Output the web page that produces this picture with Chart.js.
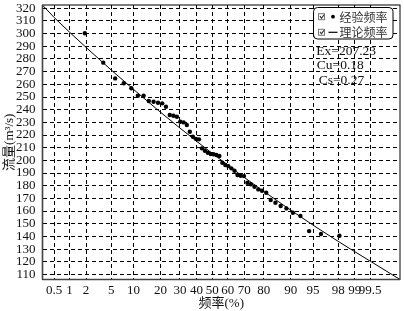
<!DOCTYPE html>
<html>
<head>
<meta charset="utf-8">
<script src="https://cdn.jsdelivr.net/npm/chart.js@4/dist/chart.umd.min.js"></script>
<style>
html,body{margin:0;padding:0;background:#fff;}
#wrap{width:404px;height:311px;position:relative;}
</style>
</head>
<body>
<div id="wrap"><canvas id="c" width="404" height="311"></canvas></div>
<script>
// ---------- data ----------
const probTicks = [0.5, 1, 2, 5, 10, 20, 30, 40, 50, 60, 70, 80, 90, 95, 98, 99, 99.5];
const flowTicks = [110, 120, 130, 140, 150, 160, 170, 180, 190, 200, 210, 220, 230, 240, 250, 260, 270, 280, 290, 300, 310, 320];

const empiricalFreq = [1.9, 3.8, 5.7, 7.5, 9.4, 11.3, 13.2, 15.1, 17.0, 18.9, 20.8, 22.6, 24.5, 26.4, 28.3, 30.2, 32.1, 34.0, 35.8, 37.7,
  39.6, 41.5, 43.4, 45.3, 47.2, 49.1, 50.9, 52.8, 54.7, 56.6, 58.5, 60.4, 62.3, 64.2, 66.0, 67.9, 69.8, 71.7, 73.6, 75.5,
  77.4, 79.2, 81.1, 83.0, 84.9, 86.8, 88.7, 90.6, 92.5, 94.3, 96.2, 98.1];
const empiricalFlow = [300.3, 277.1, 264.7, 260.8, 256.9, 251.0, 251.0, 246.8, 246.3, 245.5, 245.0, 242.3, 235.8, 235.2, 234.4, 230.5, 230.0, 227.9, 222.6, 218.6,
  217.0, 216.6, 209.5, 207.6, 206.0, 205.0, 204.8, 204.2, 203.4, 198.1, 196.3, 195.5, 193.7, 191.8, 188.4, 187.9, 187.6, 182.3, 181.1, 179.2,
  177.1, 176.0, 174.5, 168.7, 166.6, 164.0, 162.1, 158.7, 156.1, 144.2, 141.9, 140.5];

const theoryFreq = [0.285, 0.5, 1, 2, 5, 10, 20, 30, 40, 50, 60, 70, 80, 90, 95, 98, 99, 99.5, 99.89];
const theoryFlow = [322.5, 312.8, 301.3, 289.1, 271.3, 256.0, 238.0, 225.5, 215.1, 205.6, 196.3, 186.5, 175.5, 160.7, 148.9, 136.1, 127.9, 120.5, 106.0];

const legendLabels = ['经验频率', '理论频率'];
const statLines = ['Ex=207.23', 'Cu=0.18', 'Cs=0.27'];
const xTitle = '频率(%)';
const yTitle = '流量(m³/s)';

// ---------- probability (normal) scale ----------
function probit(p) {
  const a = [-3.969683028665376e+01, 2.209460984245205e+02, -2.759285104469687e+02, 1.383577518672690e+02, -3.066479806614716e+01, 2.506628277459239e+00];
  const b = [-5.447609879822406e+01, 1.615858368580409e+02, -1.556989798598866e+02, 6.680131188771972e+01, -1.328068155288572e+01];
  const c = [-7.784894002430293e-03, -3.223964580411365e-01, -2.400758277161838e+00, -2.549732539343734e+00, 4.374664141464968e+00, 2.938163982698783e+00];
  const d = [7.784695709041462e-03, 3.224671290700398e-01, 2.445134137142996e+00, 3.754408661907416e+00];
  const pl = 0.02425, ph = 1 - pl;
  let q, r;
  if (p < pl) {
    q = Math.sqrt(-2 * Math.log(p));
    return (((((c[0]*q+c[1])*q+c[2])*q+c[3])*q+c[4])*q+c[5]) / ((((d[0]*q+d[1])*q+d[2])*q+d[3])*q+1);
  }
  if (p <= ph) {
    q = p - 0.5; r = q * q;
    return (((((a[0]*r+a[1])*r+a[2])*r+a[3])*r+a[4])*r+a[5])*q / (((((b[0]*r+b[1])*r+b[2])*r+b[3])*r+b[4])*r+1);
  }
  q = Math.sqrt(-2 * Math.log(1 - p));
  return -(((((c[0]*q+c[1])*q+c[2])*q+c[3])*q+c[4])*q+c[5]) / ((((d[0]*q+d[1])*q+d[2])*q+d[3])*q+1);
}
function normCdf(z) {
  const t = 1 / (1 + 0.3275911 * Math.abs(z) / Math.SQRT2);
  const y = 1 - (((((1.061405429*t - 1.453152027)*t) + 1.421413741)*t - 0.284496736)*t + 0.254829592)*t*Math.exp(-z*z/2);
  return z >= 0 ? 0.5 * (1 + y) : 0.5 * (1 - y);
}

const LinearScale = Chart.registry.getScale('linear');
class ProbabilityScale extends LinearScale {
  determineDataLimits() { this.min = this.options.min; this.max = this.options.max; }
  buildTicks() { return probTicks.map(v => ({ value: v })); }
  configure() {
    super.configure();
    this._zMin = probit(this.min / 100);
    this._zMax = probit(this.max / 100);
  }
  getPixelForValue(v) {
    if (v === null || v === undefined) return NaN;
    return this.getPixelForDecimal((probit(v / 100) - this._zMin) / (this._zMax - this._zMin));
  }
  getValueForPixel(px) {
    return 100 * normCdf(this._zMin + this.getDecimalForPixel(px) * (this._zMax - this._zMin));
  }
}
ProbabilityScale.id = 'probability';
ProbabilityScale.defaults = {};
Chart.register(ProbabilityScale);

// ---------- overlay: frame, legend, stats ----------
const overlay = {
  id: 'overlay',
  afterDraw(chart) {
    const { ctx, chartArea: a } = chart;
    ctx.save();
    ctx.setLineDash([]);
    // frame
    ctx.strokeStyle = '#000';
    ctx.lineWidth = 1;
    ctx.strokeRect(a.left, a.top, a.right - a.left, a.bottom - a.top);
    ctx.strokeStyle = '#444';
    ctx.lineWidth = 1.6;
    ctx.beginPath();
    ctx.moveTo(a.left, a.bottom); ctx.lineTo(a.right, a.bottom);
    ctx.moveTo(a.left, a.top); ctx.lineTo(a.left, a.bottom);
    ctx.stroke();

    // legend box
    const bx = a.right - 86.5, by = a.top + 2.5, bw = 79.5, bh = 31.5, r = 4;
    ctx.beginPath();
    ctx.moveTo(bx + r, by);
    ctx.arcTo(bx + bw, by, bx + bw, by + bh, r);
    ctx.arcTo(bx + bw, by + bh, bx, by + bh, r);
    ctx.arcTo(bx, by + bh, bx, by, r);
    ctx.arcTo(bx, by, bx + bw, by, r);
    ctx.closePath();
    ctx.fillStyle = '#fff';
    ctx.fill();
    ctx.strokeStyle = '#000';
    ctx.lineWidth = 1;
    ctx.stroke();

    const rows = [by + 9.2, by + 24.8];
    ctx.font = '12px "Noto Sans CJK SC", sans-serif';
    ctx.textBaseline = 'middle';
    ctx.textAlign = 'left';
    rows.forEach((ry, i) => {
      // checkbox
      const cx = bx + 4.5, cy = ry - 3.5;
      ctx.strokeStyle = '#777';
      ctx.lineWidth = 1;
      ctx.strokeRect(cx + 0.5, cy + 0.5, 6, 6);
      ctx.strokeStyle = '#333';
      ctx.lineWidth = 1.1;
      ctx.beginPath();
      ctx.moveTo(cx + 2, cy + 3);
      ctx.lineTo(cx + 3.5, cy + 5);
      ctx.lineTo(cx + 6, cy + 1.5);
      ctx.stroke();
      // symbol
      ctx.fillStyle = '#000';
      ctx.strokeStyle = '#000';
      if (i === 0) {
        ctx.beginPath();
        ctx.arc(bx + 19.5, ry, 1.9, 0, Math.PI * 2);
        ctx.fill();
      } else {
        ctx.lineWidth = 1.2;
        ctx.beginPath();
        ctx.moveTo(bx + 15, ry); ctx.lineTo(bx + 24, ry);
        ctx.stroke();
      }
      ctx.fillStyle = '#333';
      ctx.fillText(legendLabels[i], bx + 26, ry + 0.5);
    });

    // statistics
    ctx.font = '13.5px "Liberation Serif", serif';
    ctx.fillStyle = '#111';
    const sx = [bx + 2.8, bx + 3.3, bx + 5.2];
    statLines.forEach((t, i) => {
      ctx.fillText(t, sx[i], a.top + 46.7 + i * 14.2);
    });
    ctx.restore();
  }
};

// ---------- chart ----------
Chart.defaults.font.family = '"Liberation Serif", "Noto Sans CJK SC", serif';
Chart.defaults.font.size = 13;
Chart.defaults.color = '#111';

new Chart(document.getElementById('c'), {
  type: 'scatter',
  data: {
    datasets: [
      {
        label: legendLabels[0],
        data: empiricalFreq.map((p, i) => ({ x: p, y: empiricalFlow[i] })),
        backgroundColor: '#000',
        borderWidth: 0,
        pointRadius: 2.2,
        order: 1
      },
      {
        label: legendLabels[1],
        type: 'line',
        data: theoryFreq.map((p, i) => ({ x: p, y: theoryFlow[i] })),
        borderColor: '#000',
        borderWidth: 1,
        pointRadius: 0,
        fill: false,
        tension: 0,
        order: 2
      }
    ]
  },
  options: {
    responsive: false,
    animation: false,
    events: [],
    layout: { padding: { left: 0, top: 5, right: 1, bottom: 0 } },
    plugins: { legend: { display: false }, tooltip: { enabled: false } },
    scales: {
      x: {
        type: 'probability',
        min: 0.285,
        max: 99.89,
        grid: { color: '#000', lineWidth: 1, drawTicks: false, borderDash: [4, 3] },
        border: { display: false, dash: [4, 3] },
        ticks: { callback: v => String(v), autoSkip: false, maxRotation: 0, minRotation: 0, padding: 3, color: '#111' },
        title: { display: true, text: xTitle, padding: { top: 0, bottom: 0 }, color: '#111' },
        afterFit(s) { s.height = 31.5; s.paddingLeft = 0; s.paddingRight = 0; }
      },
      y: {
        type: 'linear',
        min: 106,
        max: 322.6,
        afterBuildTicks(s) { s.ticks = flowTicks.map(v => ({ value: v })); },
        grid: { color: '#000', lineWidth: 1, drawTicks: false, borderDash: [4, 3] },
        border: { display: false, dash: [4, 3] },
        ticks: { autoSkip: false, padding: 7, color: '#111' },
        title: { display: true, text: yTitle, padding: { top: 2, bottom: 0 }, color: '#111' },
        afterFit(s) { s.width = 42.5; s.paddingTop = 0; s.paddingBottom = 0; }
      }
    }
  },
  plugins: [overlay]
});
</script>
</body>
</html>
